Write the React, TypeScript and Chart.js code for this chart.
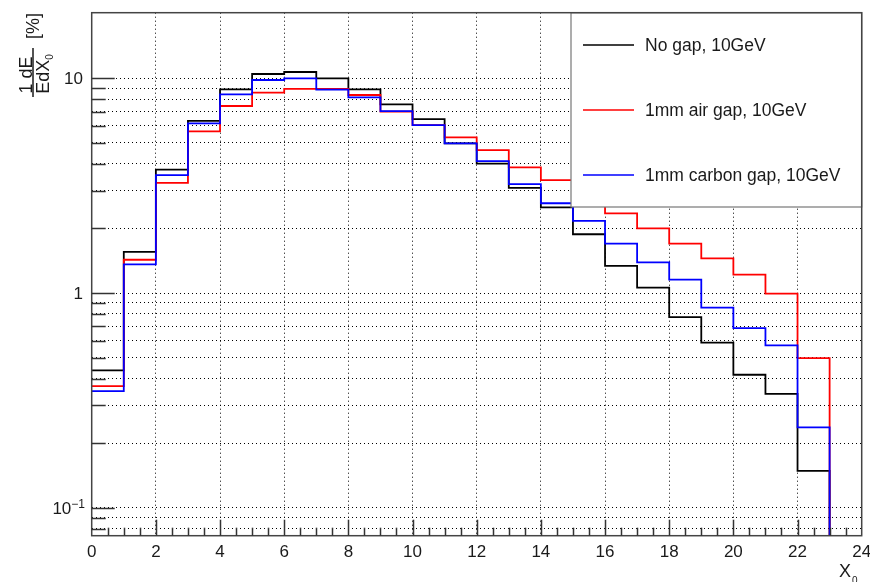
import { useEffect, useRef } from 'react';
import { Chart, registerables } from 'chart.js';

Chart.register(...registerables);

// ---- data (bin contents, bins of width 1 X0 starting at 0) ----
const BIN_EDGES = [0, 1, 2, 3, 4, 5, 6, 7, 8, 9, 10, 11, 12, 13, 14, 15, 16, 17, 18, 19, 20, 21, 22, 23];
const NO_GAP = [0.437, 1.555, 3.76, 6.34, 8.89, 10.47, 10.7, 10.0, 8.89, 7.56, 6.46, 4.98, 4.01, 3.09, 2.51, 1.88, 1.34, 1.06, 0.774, 0.588, 0.417, 0.34, 0.149];
const AIR_GAP = [0.369, 1.43, 3.26, 5.66, 7.43, 8.57, 8.92, 8.92, 8.36, 7.0, 6.06, 5.31, 4.63, 3.85, 3.36, 2.8, 2.35, 2.0, 1.70, 1.45, 1.22, 0.995, 0.498];
const CARBON_GAP = [0.350, 1.36, 3.54, 6.17, 8.42, 9.82, 10.0, 8.85, 8.15, 7.04, 6.06, 4.98, 4.12, 3.22, 2.62, 2.17, 1.70, 1.39, 1.155, 0.856, 0.688, 0.571, 0.2375];
const EMPTY_BIN = 1e-3; // content of the first empty bin (drawn below the axis floor)

const SERIES_LABELS = ['No gap, 10GeV', '1mm air gap, 10GeV', '1mm carbon gap, 10GeV'];
const SERIES_COLORS = ['#000000', '#ff0000', '#0000ff'];

const X_MIN = 0;
const X_MAX = 24;
const X_TICKS = [0, 2, 4, 6, 8, 10, 12, 14, 16, 18, 20, 22, 24];
const X_MINOR_STEP = 0.5;

const Y_MIN = 0.0743;
const Y_MAX = 20.2;
const Y_DECADES = [0.1, 1, 10];
const Y_DECADE_BASES = ['10', '1', '10'];
const Y_DECADE_EXPONENTS = ['\u22121', '', ''];
const Y_MULTIPLIERS = [1, 2, 3, 4, 5, 6, 7, 8, 9];

const FONT = '"Liberation Sans", Arial, Helvetica, sans-serif';

// bin i spans [edge i, edge i+1]; a leading point at the lower edge starts the outline
function histPoints(values: number[]) {
  const pts = [{ x: BIN_EDGES[0], y: values[0] }];
  values.forEach((v, i) => pts.push({ x: BIN_EDGES[i + 1], y: v }));
  pts.push({ x: BIN_EDGES[values.length], y: EMPTY_BIN });
  return pts;
}

function yGridValues(): { value: number; major: boolean }[] {
  const out: { value: number; major: boolean }[] = [];
  [0.01, 0.1, 1, 10].forEach((d) => {
    Y_MULTIPLIERS.forEach((m) => {
      const v = Number((m * d).toPrecision(4));
      if (v >= Y_MIN && v <= Y_MAX * 0.97) out.push({ value: v, major: m === 1 });
    });
  });
  return out;
}

const rootStylePlugin = {
  id: 'rootStyle',
  afterDatasetsDraw(chart: any) {
    const { ctx, chartArea } = chart;
    const xs = chart.scales.x;
    const ys = chart.scales.y;
    const { left, right, top, bottom } = chartArea;
    ctx.save();

    // legend box (opaque, covers the plot)
    const lx1 = 571, ly1 = top, lx2 = right, ly2 = 207;
    ctx.fillStyle = '#ffffff';
    ctx.fillRect(lx1, ly1, lx2 - lx1, ly2 - ly1);
    ctx.strokeStyle = '#777777';
    ctx.lineWidth = 1.2;
    ctx.strokeRect(lx1, ly1, lx2 - lx1, ly2 - ly1);
    const entryY = [45, 110, 175];
    chart.data.datasets.forEach((ds: any, i: number) => {
      ctx.strokeStyle = ds.borderColor;
      ctx.lineWidth = 1.6;
      ctx.beginPath();
      ctx.moveTo(583, entryY[i]);
      ctx.lineTo(634, entryY[i]);
      ctx.stroke();
      ctx.fillStyle = '#1a1a1a';
      ctx.font = `17.5px ${FONT}`;
      ctx.textAlign = 'left';
      ctx.textBaseline = 'middle';
      ctx.fillText(ds.label, 645, entryY[i] + 1);
    });

    // frame
    ctx.strokeStyle = '#444444';
    ctx.lineWidth = 1.5;
    ctx.strokeRect(left, top, right - left, bottom - top);

    // x tick marks (inside)
    ctx.strokeStyle = '#333333';
    ctx.lineWidth = 1.5;
    for (let v = X_MIN + X_MINOR_STEP; v < X_MAX; v += X_MINOR_STEP) {
      const px = Math.round(xs.getPixelForValue(v)) + 0.5;
      const len = X_TICKS.includes(v) ? 16 : 8;
      ctx.beginPath();
      ctx.moveTo(px, bottom);
      ctx.lineTo(px, bottom - len);
      ctx.stroke();
    }
    // y tick marks (inside)
    yGridValues().forEach((t) => {
      const py = Math.round(ys.getPixelForValue(t.value)) + 0.5;
      const len = t.major ? 23 : 14;
      ctx.beginPath();
      ctx.moveTo(left, py);
      ctx.lineTo(left + len, py);
      ctx.stroke();
    });

    // x tick labels
    ctx.fillStyle = '#1a1a1a';
    ctx.font = `17px ${FONT}`;
    ctx.textAlign = 'center';
    ctx.textBaseline = 'alphabetic';
    X_TICKS.forEach((v) => {
      ctx.fillText(String(v), xs.getPixelForValue(v), 557);
    });

    // y tick labels
    Y_DECADES.forEach((v, i) => {
      const py = ys.getPixelForValue(v);
      const exp = Y_DECADE_EXPONENTS[i];
      ctx.font = `12px ${FONT}`;
      const ew = exp ? ctx.measureText(exp).width : 0;
      const rightEdge = exp ? 85 : 83;
      ctx.font = `17px ${FONT}`;
      ctx.textAlign = 'right';
      ctx.fillText(Y_DECADE_BASES[i], rightEdge - ew, py + 6);
      if (exp) {
        ctx.font = `12px ${FONT}`;
        ctx.textAlign = 'left';
        ctx.fillText(exp, rightEdge - ew, py);
      }
    });

    // x axis title  X_0
    ctx.textAlign = 'left';
    ctx.font = `18px ${FONT}`;
    ctx.fillText('X', 839, 577);
    ctx.font = `10px ${FONT}`;
    ctx.fillText('0', 852, 584);

    // y axis title  (1 dE / E dX_0) [%]  rotated
    ctx.save();
    ctx.rotate(-Math.PI / 2);
    ctx.textBaseline = 'alphabetic';
    ctx.font = `18px ${FONT}`;
    ctx.textAlign = 'center';
    ctx.fillText('1 dE', -75, 31.5);
    ctx.fillText('[%]', -26, 38.5);
    ctx.font = `18px ${FONT}`;
    const wEdX = ctx.measureText('EdX').width;
    ctx.font = `10px ${FONT}`;
    const w0 = ctx.measureText('0').width;
    const start = -74 - (wEdX + w0) / 2;
    ctx.textAlign = 'left';
    ctx.font = `18px ${FONT}`;
    ctx.fillText('EdX', start, 48.5);
    ctx.font = `10px ${FONT}`;
    ctx.fillText('0', start + wEdX, 52.5);
    ctx.restore();
    ctx.strokeStyle = '#1a1a1a';
    ctx.lineWidth = 1.5;
    ctx.beginPath();
    ctx.moveTo(33, 48);
    ctx.lineTo(33, 97);
    ctx.stroke();

    ctx.restore();
  },
};

export default function App() {
  const canvasRef = useRef<HTMLCanvasElement | null>(null);

  useEffect(() => {
    if (!canvasRef.current) return;
    const series = [NO_GAP, AIR_GAP, CARBON_GAP];
    const chart = new Chart(canvasRef.current, {
      type: 'line',
      data: {
        datasets: series.map((vals, i) => ({
          label: SERIES_LABELS[i],
          data: histPoints(vals),
          borderColor: SERIES_COLORS[i],
          backgroundColor: SERIES_COLORS[i],
          borderWidth: 1.8,
          stepped: 'after' as const,
          pointRadius: 0,
          pointHoverRadius: 0,
          fill: false,
          order: 2 - i,
        })),
      },
      options: {
        animation: false,
        responsive: true,
        maintainAspectRatio: false,
        events: [],
        layout: { padding: { left: 91.7, top: 12.7, right: 8.3, bottom: 46.3 } },
        plugins: { legend: { display: false }, tooltip: { enabled: false } },
        scales: {
          x: {
            type: 'linear',
            min: X_MIN,
            max: X_MAX,
            afterBuildTicks: (s: any) => {
              s.ticks = X_TICKS.map((v) => ({ value: v }));
            },
            afterFit: (s: any) => {
              s.height = 0;
            },
            ticks: { display: false },
            grid: { color: '#000000', lineWidth: 1, drawTicks: false },
            border: { display: false, dash: [1, 3] },
          },
          y: {
            type: 'logarithmic',
            min: Y_MIN,
            max: Y_MAX,
            afterBuildTicks: (s: any) => {
              s.ticks = yGridValues().map((t) => ({ value: t.value, major: t.major }));
            },
            afterFit: (s: any) => {
              s.width = 0;
            },
            ticks: { display: false },
            grid: { color: '#000000', lineWidth: 1, drawTicks: false },
            border: { display: false, dash: [1, 3] },
          },
        },
      },
      plugins: [rootStylePlugin],
    });
    return () => chart.destroy();
  }, []);

  return (
    <div style={{ position: 'absolute', left: 0, top: 0, width: 870, height: 582, background: '#ffffff' }}>
      <canvas ref={canvasRef} />
    </div>
  );
}
